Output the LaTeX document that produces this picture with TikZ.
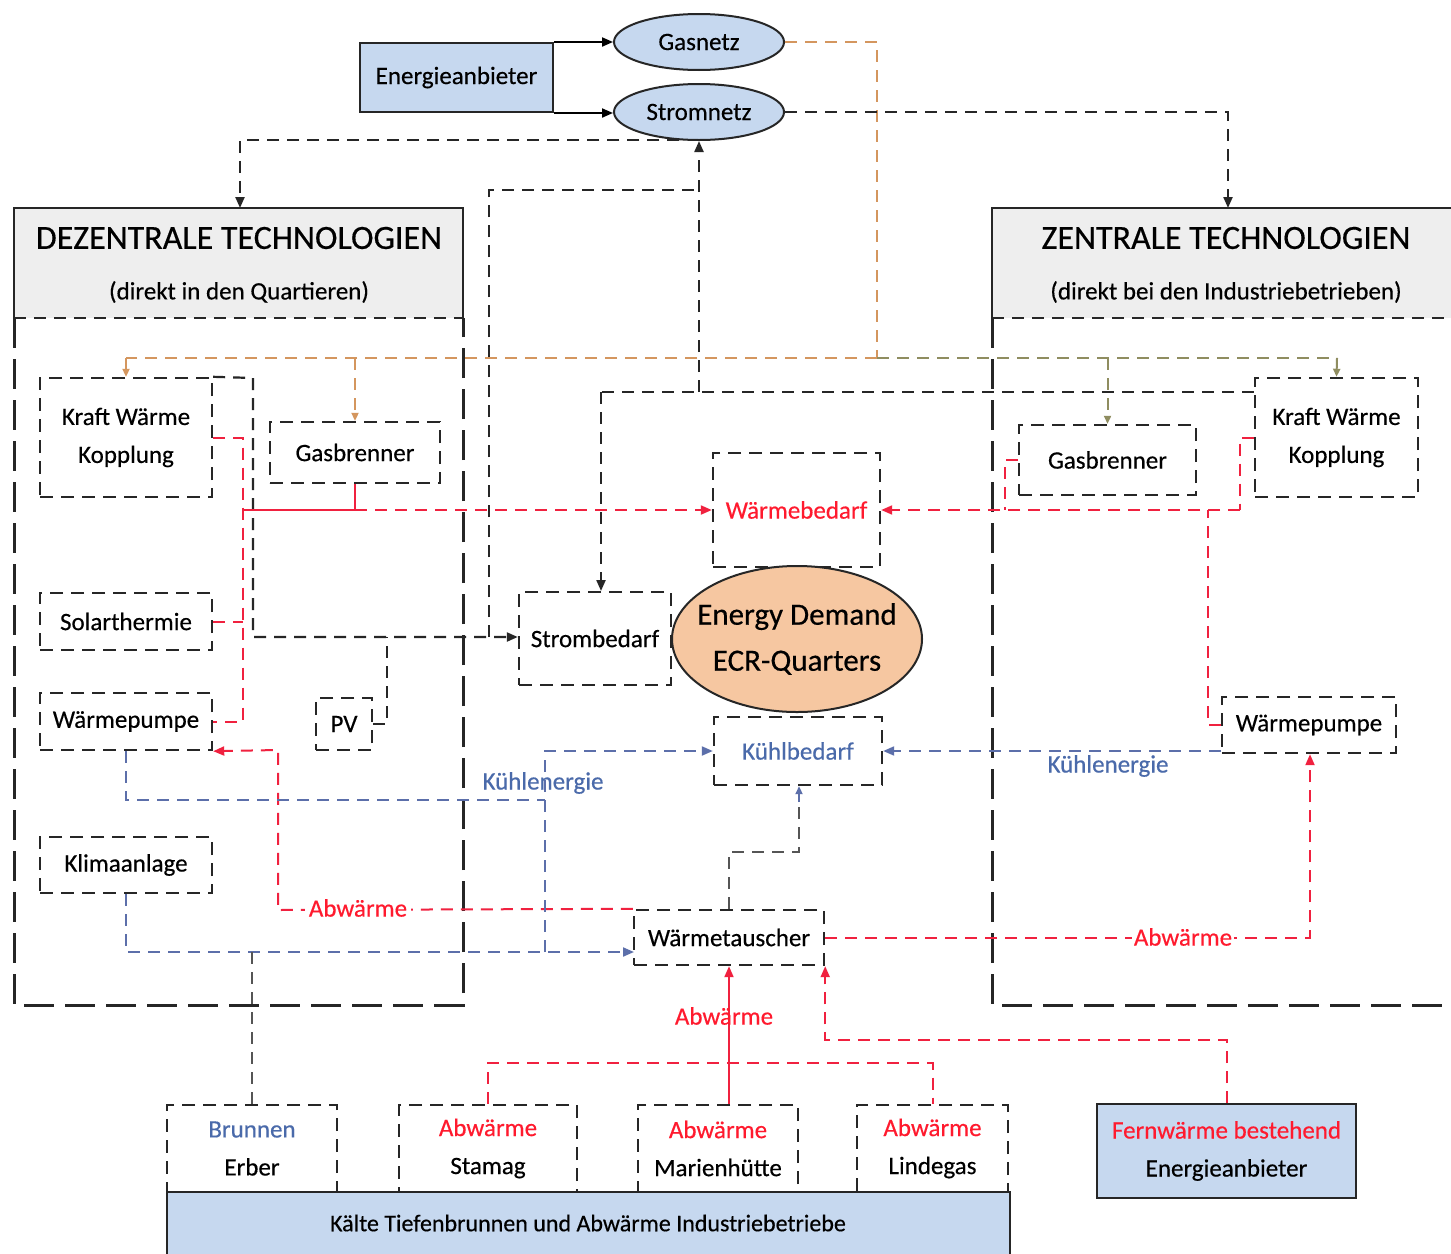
\documentclass[tikz,border=0pt]{standalone}
\usepackage{fontspec}
\setmainfont{Carlito}[FakeBold=0.4]
\usetikzlibrary{arrows.meta,shapes.geometric}
\definecolor{lblue}{HTML}{C6D8EF}
\definecolor{hgray}{HTML}{EEEEEE}
\definecolor{peach}{HTML}{F6C7A1}
\definecolor{hred}{HTML}{F0213F}
\definecolor{tred}{HTML}{FF1A2E}
\definecolor{cblue}{HTML}{5C6FAA}
\definecolor{tblue}{HTML}{4A6AAA}
\definecolor{gasor}{HTML}{D4965E}
\definecolor{gasol}{HTML}{8F8D60}
\definecolor{dgray}{HTML}{555555}
\begin{document}
\begin{tikzpicture}[x=1pt,y=-1pt,
  every node/.style={font=\fontsize{25}{38}\selectfont, inner sep=0pt, align=center},
  dbox/.style={draw=black!85, line width=2.4pt, dash pattern=on 13pt off 8pt},
  sbox/.style={draw=black!85, line width=2pt, fill=lblue},
  edash/.style={draw=black!85, line width=2.2pt, dash pattern=on 12pt off 8pt},
  hdash/.style={draw=hred, line width=2pt, dash pattern=on 12pt off 8pt},
  hsolid/.style={draw=hred, line width=2pt},
  cdash/.style={draw=cblue, line width=2pt, dash pattern=on 12pt off 8pt},
  gdash/.style={draw=dgray, line width=2pt, dash pattern=on 12pt off 8pt},
  gasA/.style={draw=gasor, line width=2pt, dash pattern=on 12pt off 8pt},
  gasB/.style={draw=gasol, line width=2pt, dash pattern=on 12pt off 8pt},
  arr/.style={-{Triangle[length=11pt,width=9pt]}},
  sarr/.style={-{Triangle[length=8pt,width=7pt]}},
  bigdash/.style={draw=black!85, line width=3pt, dash pattern=on 30pt off 11pt},
  ttl/.style={font=\fontsize{34}{40}\selectfont},
  lbl/.style={font=\fontsize{25}{30}\selectfont}
]
\useasboundingbox (0,0) rectangle (1451,1253);
\fill[white] (0,0) rectangle (1451,1253);

% ---------- big frames ----------
\fill[hgray] (14,208) rectangle (463,318);
\draw[black!85, line width=2.4pt] (14,318) -- (14,208) -- (463,208) -- (463,318);
\draw[edash] (14,318) -- (463,318);
\draw[bigdash] (14,318) -- (14,1005) -- (463,1005) -- (463,318);
\node[ttl] (dezT) at (239,238) {DEZENTRALE TECHNOLOGIEN};
\node (dezS) at (239,292) {(direkt in den Quartieren)};
\coordinate (dezTop) at (240,208);

\fill[hgray] (992,208) rectangle (1451,318);
\draw[black!85, line width=2.4pt] (992,318) -- (992,208) -- (1451,208);
\draw[edash] (992,318) -- (1451,318);
\draw[bigdash] (992,318) -- (992,1005) -- (1451,1005);
\node[ttl] (zenT) at (1226,238) {ZENTRALE TECHNOLOGIEN};
\node (zenS) at (1226,292) {(direkt bei den Industriebetrieben)};
\coordinate (zenTop) at (1228,208);

% ---------- top ----------
\node[sbox, minimum width=193, minimum height=69] (ea) at (456.5,77.5) {Energieanbieter};
\node[ellipse, sbox, minimum width=170, minimum height=56] (gas) at (699,42) {};
\node (gasT) at (gas.center) {Gasnetz};
\node[ellipse, sbox, minimum width=170, minimum height=56] (strom) at (699,112) {};
\node (stromT) at (strom.center) {Stromnetz};

% ---------- left nodes ----------
\node[dbox, minimum width=172, minimum height=119] (kwkL) at (126,437.5) {Kraft Wärme\\Kopplung};
\node[dbox, minimum width=170, minimum height=61] (gbL) at (355,452.5) {Gasbrenner};
\node[dbox, minimum width=172, minimum height=57] (solar) at (126,621.5) {Solarthermie};
\node[dbox, minimum width=172, minimum height=57] (wpL) at (126,721.5) {Wärmepumpe};
\node[dbox, minimum width=56, minimum height=52] (pv) at (344,724) {PV};
\node[dbox, minimum width=172, minimum height=56] (klima) at (126,865) {Klimaanlage};

% ---------- middle nodes ----------
\node[dbox, minimum width=167, minimum height=114, text=tred] (wb) at (796.5,510) {Wärmebedarf};
\node[ellipse, draw=black!85, line width=2pt, fill=peach, minimum width=250, minimum height=146] (ed) at (797,639) {};
\node[font=\fontsize{31}{46}\selectfont] (edT) at (ed.center) {Energy Demand\\ECR-Quarters};
\node[dbox, minimum width=152, minimum height=93] (sb) at (595,638.5) {Strombedarf};
\node[dbox, minimum width=168, minimum height=68, text=tblue] (kb) at (798,751) {Kühlbedarf};
\node[dbox, minimum width=190, minimum height=55] (wt) at (729,937.5) {Wärmetauscher};

% ---------- right nodes ----------
\node[dbox, minimum width=177, minimum height=70] (gbR) at (1107.5,460) {Gasbrenner};
\node[dbox, minimum width=163, minimum height=119] (kwkR) at (1336.5,437.5) {Kraft Wärme\\Kopplung};
\node[dbox, minimum width=174, minimum height=56] (wpR) at (1309,725) {Wärmepumpe};

% ---------- bottom ----------
\fill[lblue] (167,1192) rectangle (1010,1260);
\draw[black!85, line width=2pt] (167,1260) -- (167,1192) -- (1010,1192) -- (1010,1260);
\node[font=\fontsize{24}{30}\selectfont] (bar) at (588,1223) {Kälte Tiefenbrunnen und Abwärme Industriebetriebe};
\node[dbox, minimum width=170, minimum height=87] (brunnen) at (252,1148.5) {\textcolor{tblue}{Brunnen}\\Erber};
\node[dbox, minimum width=178, minimum height=87] (stamag) at (488,1148.5) {\textcolor{tred}{Abwärme}\\Stamag};
\node[dbox, minimum width=160, minimum height=87] (marien) at (718,1148.5) {\textcolor{tred}{Abwärme}\\Marienhütte};
\node[dbox, minimum width=151, minimum height=87] (linde) at (932.5,1148.5) {\textcolor{tred}{Abwärme}\\Lindegas};
\node[sbox, minimum width=259, minimum height=94] (fern) at (1226.5,1151) {\textcolor{tred}{Fernwärme bestehend}\\Energieanbieter};

% ---------- supply arrows ----------
\draw[black, line width=2pt, arr] (ea.north east) -- (ea.north east -| gas.west);
\draw[black, line width=2pt, arr] (ea.south east) -- (ea.south east -| strom.west);

% gas distribution
\coordinate (gj) at (877,358);
\draw[gasA] (gas.east) -- (877,42) -- (gj);
\draw[gasA] (gj) -- (126,358);
\draw[gasB] (gj) -- (1337,358);
\draw[gasA, sarr] (126,358) -- (kwkL.north);
\draw[gasA, sarr] (355,358) -- (gbL.north);
\draw[gasB, sarr] (1107.5,358) -- (gbR.north);
\draw[gasB, sarr] (1337,358) -- (kwkR.north);

% electricity
\draw[edash, arr] (strom.235) -- (strom.235 -| dezTop) -- (dezTop);
\draw[edash, arr] (strom.east) -- (strom.east -| zenTop) -- (zenTop);
\coordinate (kj) at (699,392);
\coordinate (sj) at (489,637);
\draw[edash] (kwkR.west |- kj) -- (601,392);
\draw[edash, arr] (601,392) -- (601,591);
\draw[edash, arr] (kj) -- (strom.south);
\draw[edash] (sj) -- (489,190) -- (699,190);
\draw[edash, arr] (kwkL.north east) -- (253,378) -- (253,637) -- (sb.west |- sj);
\draw[edash] (pv.east) -- (387,724) -- (387,637);

% heat, left
\draw[hdash] (kwkL.east) -- (243,437.5) -- (243,721.5) -- (wpL.east);
\draw[hdash] (solar.east) -- (243,621.5);
\draw[hsolid] (243,510) -- (355,510);
\draw[hdash, arr] (355,510) -- (wb.west);
\draw[hsolid] (gbL.south) -- (355,510);

% heat, right
\draw[hdash, arr] (1240,510) -- (wb.east);
\draw[hdash] (kwkR.west) -- (1240,437.5) -- (1240,510);
\draw[hdash] (gbR.west) -- (1005,460) -- (1005,510);
\draw[hdash] (wpR.west) -- (1208,725) -- (1208,510);

% Abwaerme
\draw[hdash, arr] (wt.north west) -- (278,910) -- (278,750) -- (wpL.south east);
\node[lbl, text=tred, fill=white, inner xsep=4pt] (abwL) at (358,908) {Abwärme};
\draw[hdash, arr] (wt.east) -| (wpR.south -| 1310,0);
\node[lbl, text=tred, fill=white, inner xsep=2pt] (abwR) at (1183,937) {Abwärme};
\draw[hsolid, arr] (wt.south |- marien.north) -- (wt.south);
\node[lbl, text=tred] (abwM) at (724,1016) {Abwärme};
\coordinate (hb) at (0,1063);
\draw[hdash] (stamag.north) |- (hb -| linde.north) -- (linde.north);
\draw[hdash, arr] (fern.north) |- (wt.south east |- 0,1040) -- (wt.south east);

% cooling
\draw[cdash] (wpL.south) -- (126,800) -- (545,800);
\draw[cdash, arr] (545,952) -- (545,751) -- (kb.west);
\node[lbl, text=tblue] (kuL) at (543,783) {Kühlenergie};
\draw[cdash, arr] (klima.south) -- (126,952) -- (634,952);
\draw[gdash] (brunnen.north) -- (252,952);
\draw[cdash, arr] (kb.east -| wpR.west) -- (kb.east);
\node[lbl, text=tblue] (kuR) at (1108,766) {Kühlenergie};
\draw[gdash] (wt.north) -- (729,852) -- (799,852) -- (799,800);
\draw[cdash, sarr] (799,802) -- (kb.south -| 799,0);
\end{tikzpicture}
\end{document}
